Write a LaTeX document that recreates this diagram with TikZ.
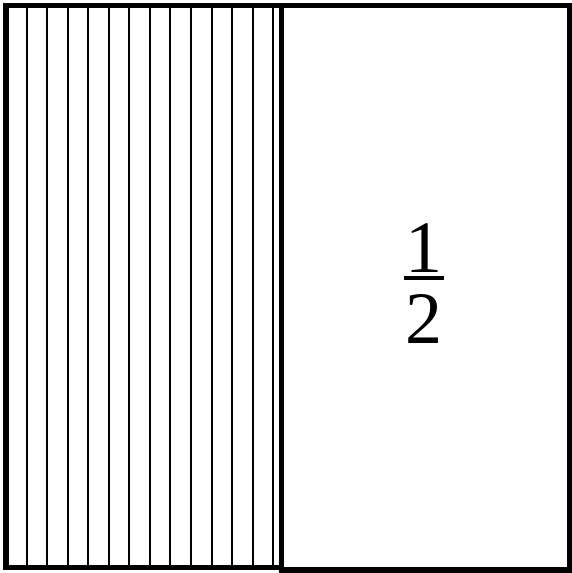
\documentclass[tikz,border=0pt]{standalone}
\usepackage{fontspec}
\setmainfont{Liberation Serif}
\usetikzlibrary{positioning,calc}

\begin{document}
\begin{tikzpicture}[line width=2pt, line cap=butt, line join=miter, x=1pt, y=-1pt]
  \useasboundingbox (0,0) rectangle (571,573);
  % Shaded half: thin strips.
  \foreach \k in {1,...,13} {
    \draw (6+20.55*\k,5) -- (6+20.55*\k,567);
  }
  % Frames of the two halves.
  \draw[line width=5.5pt] (6,5.5) rectangle (281.5,567.5);
  \draw[line width=5.5pt] (281.5,5.5) rectangle (569.5,570);
  % The label.
  \node[font=\fontsize{74}{74}\selectfont, inner sep=0pt, anchor=base] (num) at (424,272) {1};
  \node[font=\fontsize{74}{74}\selectfont, inner sep=0pt, anchor=base] (den) at (424,343) {2};
  \coordinate (bar) at ($(num.base)!0.08!(den.base)$);
  \draw[line width=4pt] ([xshift=-20pt]bar) -- ([xshift=20pt]bar);
\end{tikzpicture}
\end{document}
